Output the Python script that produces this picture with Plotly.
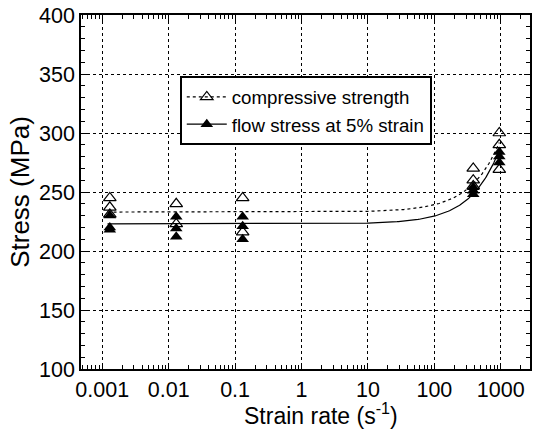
import numpy as np
import plotly.graph_objects as go

# Measured compressive strength (MPa) at each strain rate (1/s)
cs_rate = [0.0013, 0.0013, 0.0013, 0.013, 0.013, 0.13, 0.13,
           385, 385, 385, 950, 950, 950]
cs_stress = [245, 237, 231, 240, 223, 245, 216,
             270, 260, 255, 300, 290, 269]

# Measured flow stress at 5% strain (MPa)
fs_rate = [0.0013, 0.0013, 0.0013, 0.013, 0.013, 0.013, 0.13, 0.13, 0.13,
           385, 385, 385, 950, 950, 950]
fs_stress = [230, 220, 218, 229, 219, 212, 229, 221, 210,
             254, 251, 248, 284, 280, 275]

# Linear rate-hardening fits: sigma = sigma0 + k * rate
cs_sigma0, cs_k = 233.0, 0.062
fs_sigma0, fs_k = 223.0, 0.066

x_ticks = [0.001, 0.01, 0.1, 1, 10, 100, 1000]
x_tick_text = ["0.001", "0.01", "0.1", "1", "10", "100", "1000"]
y_ticks = [100, 150, 200, 250, 300, 350, 400]

fit_rate = np.logspace(np.log10(0.0012), np.log10(950), 300)

FONT = "Liberation Sans, Arial, sans-serif"

fig = go.Figure()

fig.add_trace(go.Scatter(
    x=fit_rate, y=cs_sigma0 + cs_k * fit_rate, mode="lines",
    line=dict(color="black", width=1.2, dash="dot"),
    showlegend=False, hoverinfo="skip"))
fig.add_trace(go.Scatter(
    x=fit_rate, y=fs_sigma0 + fs_k * fit_rate, mode="lines",
    line=dict(color="black", width=1.2),
    showlegend=False, hoverinfo="skip"))

fig.add_trace(go.Scatter(
    x=cs_rate, y=cs_stress, mode="markers",
    marker=dict(symbol="triangle-up-open", size=11, color="black",
                line=dict(color="black", width=1.2)),
    showlegend=False))
fig.add_trace(go.Scatter(
    x=fs_rate, y=fs_stress, mode="markers",
    marker=dict(symbol="triangle-up", size=11, color="black",
                line=dict(color="black", width=0)),
    showlegend=False))

# Legend entries (line + marker)
fig.add_trace(go.Scatter(
    x=[None], y=[None], mode="lines+markers", name="compressive strength",
    line=dict(color="black", width=1.2, dash="dot"),
    marker=dict(symbol="triangle-up-open", size=11, color="black",
                line=dict(color="black", width=1.2))))
fig.add_trace(go.Scatter(
    x=[None], y=[None], mode="lines+markers", name="flow stress at 5% strain",
    line=dict(color="black", width=1.2),
    marker=dict(symbol="triangle-up", size=11, color="black")))

axis_common = dict(
    showline=True, linecolor="black", linewidth=1.5, mirror="ticks",
    ticks="inside", tickcolor="black", ticklen=6, tickwidth=1,
    showgrid=True, gridcolor="black", gridwidth=1, griddash="dot",
    zeroline=False,
    tickfont=dict(family=FONT, size=21.5, color="black"),
)

fig.update_xaxes(
    type="log", range=[-3.32, 3.44],
    tickvals=x_ticks, ticktext=x_tick_text,
    minor=dict(ticks="inside", ticklen=4, tickcolor="black", dtick="D1",
               showgrid=False),
    **axis_common)

fig.update_yaxes(
    range=[100, 400], tickvals=y_ticks,
    minor=dict(ticks="inside", ticklen=4, tickcolor="black", dtick=10,
               showgrid=False),
    title=dict(text="Stress (MPa)",
               font=dict(family=FONT, size=26, color="black"), standoff=2),
    **axis_common)

# x-axis title placed just under the tick labels
fig.add_annotation(
    text="Strain rate (s<sup>-1</sup>)", xref="paper", yref="paper",
    x=0.535, y=-0.083, xanchor="center", yanchor="top", showarrow=False,
    borderpad=0,
    font=dict(family=FONT, size=23, color="black"))

fig.update_layout(
    width=534, height=430,
    margin=dict(l=81, r=2, t=15, b=61),
    paper_bgcolor="white", plot_bgcolor="white",
    legend=dict(x=0.22, y=0.827, xanchor="left", yanchor="top",
                bgcolor="white", bordercolor="black", borderwidth=2,
                font=dict(family=FONT, size=18.7, color="black"),
                itemwidth=40, tracegroupgap=0),
)

fig.write_html("out.html")
